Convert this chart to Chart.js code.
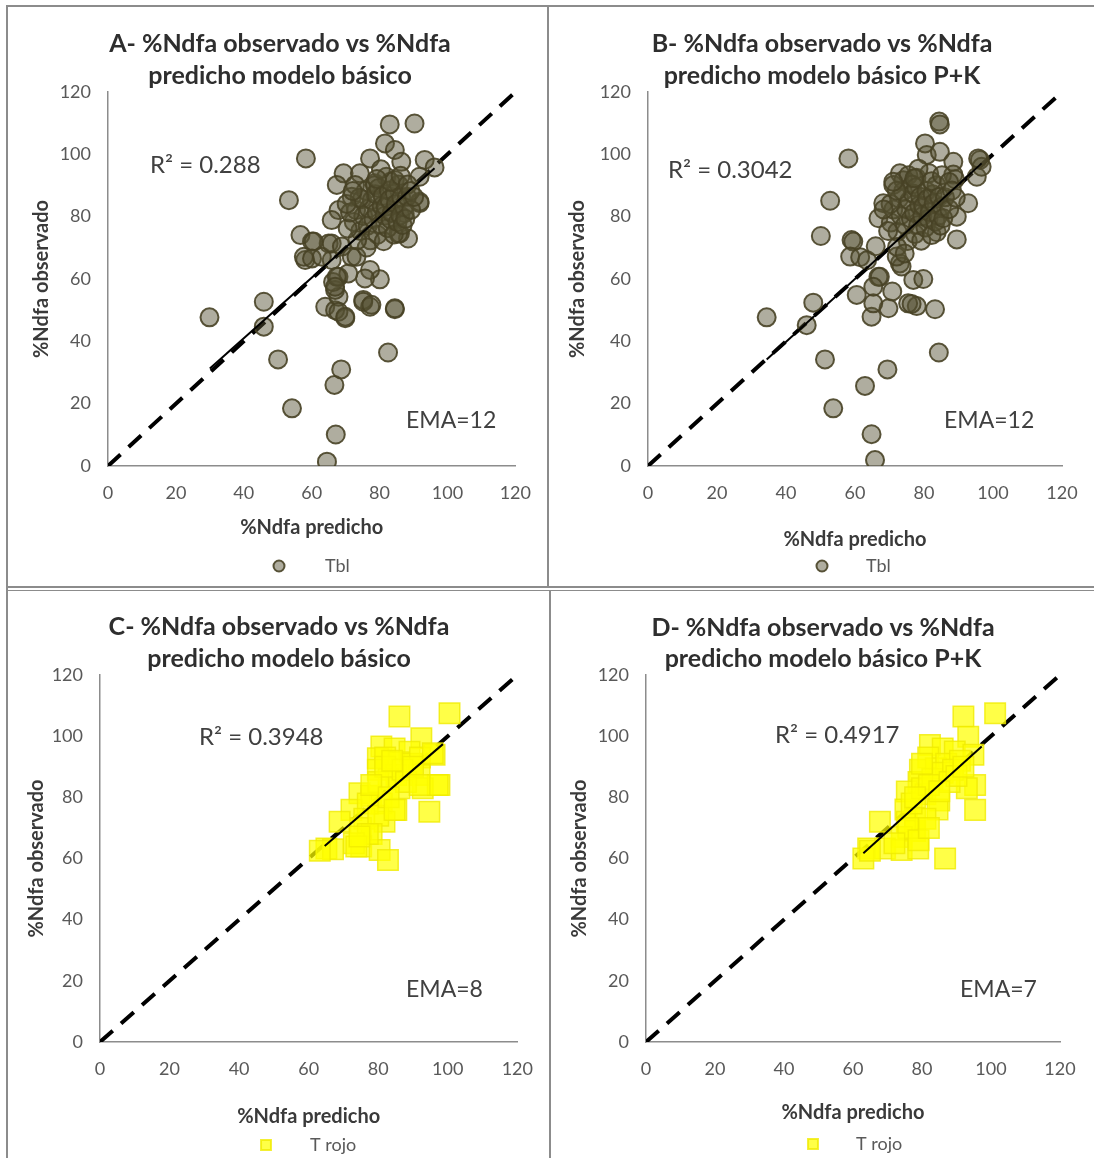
<!DOCTYPE html>
<html>
<head>
<meta charset="utf-8">
<script src="https://cdn.jsdelivr.net/npm/chart.js@4.4.1/dist/chart.umd.min.js"></script>
<style>
  body { margin: 0; background: #fff; width: 1094px; height: 1158px; position: relative; overflow: hidden; }
  canvas { position: absolute; }
  .ln { position: absolute; background: #8c8c8c; }
</style>
</head>
<body>
<div class="ln" style="left:6px;top:5px;width:1088px;height:2px"></div>
<div class="ln" style="left:6px;top:5px;width:2px;height:1153px"></div>
<div class="ln" style="left:547px;top:5px;width:2px;height:583px"></div>
<div class="ln" style="left:6px;top:586px;width:1088px;height:2px"></div>
<div class="ln" style="left:6px;top:590px;width:1088px;height:1px"></div>
<div class="ln" style="left:549px;top:590px;width:2px;height:568px"></div>

<canvas id="cA" width="539" height="579" style="left:8px;top:7px"></canvas>
<canvas id="cB" width="545" height="579" style="left:549px;top:7px"></canvas>
<canvas id="cC" width="541" height="567" style="left:8px;top:591px"></canvas>
<canvas id="cD" width="543" height="567" style="left:551px;top:591px"></canvas>

<script>
// axis ticks (both axes)
const ticks = [0, 20, 40, 60, 80, 100, 120];

// A - Tbl, modelo básico
const predA = [
  83.0, 90.3, 58.3, 53.3, 56.7, 29.9, 45.9, 45.9, 50.1, 54.2,
  67.1, 64.5, 66.7, 68.7, 82.5, 84.5, 93.3, 96.2, 91.8, 91.8,
  88.4, 86.0, 80.1, 77.2, 75.2, 69.9, 64.0, 66.9, 67.9, 66.9,
  66.3, 67.9, 65.0, 60.1, 58.1, 60.6, 57.7, 65.9, 77.2, 75.7,
  70.8, 67.4, 66.9, 67.9, 69.9, 75.2, 77.6, 84.5, 81.6, 84.5,
  77.2, 86.4, 69.4, 74.2, 67.4, 82.0, 71.8, 91.8, 67.9, 65.9,
  87.4, 85.5, 60.1, 63.0, 65.9, 68.9, 71.8, 73.2, 84.5, 78.6,
  72.8,
  72.4, 73.1, 74.3, 75.2, 74.8, 76.5, 75.9, 77.3, 76.8, 78.2,
  77.7, 78.6, 79.4, 79.1, 78.8, 80.3, 80.6, 79.7, 81.2, 81.5,
  80.9, 82.4, 81.8, 82.7, 83.3, 82.9, 84.2, 83.6, 84.5, 85.3,
  84.8, 85.6, 86.1, 86.4, 87.2, 86.8, 88.1, 87.6, 89.3, 76.2,
  73.4, 70.6, 71.3, 74.1, 83.2, 86.2, 80.4, 79.2, 88.3, 89.1,
  90.2, 70.3, 72.1
];
const obsA = [
  109.6, 109.9, 98.7, 85.3, 74.1, 47.7, 52.7, 44.7, 34.2, 18.5,
  10.1, 1.4, 26.0, 31.0, 36.4, 50.3, 98.2, 95.8, 84.3, 92.8,
  73.0, 74.6, 59.9, 51.1, 53.3, 47.4, 51.1, 50.0, 54.3, 56.5,
  59.0, 60.7, 71.4, 72.0, 66.1, 72.0, 67.1, 66.1, 62.9, 60.2,
  61.8, 60.7, 57.5, 49.5, 47.9, 52.7, 51.7, 50.6, 103.5, 101.4,
  98.7, 97.6, 93.9, 93.9, 90.2, 92.8, 86.4, 84.8, 82.1, 78.9,
  81.1, 74.6, 66.6, 67.1, 71.4, 70.4, 67.1, 67.1, 91.8, 90.7,
  90.2,
  78.3, 82.1, 75.4, 80.2, 85.6, 77.1, 88.3, 72.4, 82.6, 79.2,
  85.3, 90.1, 74.2, 81.4, 87.2, 77.5, 83.4, 89.2, 72.1, 80.3,
  86.6, 76.3, 83.2, 88.4, 79.1, 85.5, 74.3, 81.2, 87.4, 78.2,
  84.1, 90.3, 80.4, 86.2, 83.1, 77.3, 86.4, 79.3, 82.2, 70.1,
  72.4, 76.2, 81.3, 86.1, 91.2, 93.1, 95.2, 92.1, 90.3, 88.2,
  86.3, 84.1, 88.2
];

// B - Tbl, modelo básico P+K
const predB = [
  84.4, 84.6, 58.1, 52.8, 50.1, 34.4, 47.9, 46.0, 51.3, 53.7,
  64.8, 65.8, 62.9, 69.4, 84.3, 83.2, 64.8, 69.7, 65.3, 60.5,
  77.9, 75.4, 76.4, 70.8, 76.9, 79.8, 66.8, 67.2, 65.3, 73.0,
  73.5, 72.1, 59.0, 59.5, 58.6, 61.5, 63.5, 66.0, 89.5, 83.7,
  92.8, 89.5, 96.2, 95.3, 96.7, 95.7, 80.3, 80.8, 84.6, 88.5,
  88.5, 89.0, 73.0, 71.1, 68.2, 66.8, 74.0, 75.5, 77.8, 81.5,
  70.4, 71.1, 72.3, 73.2, 72.8, 74.5, 73.9, 75.3, 74.8, 76.2,
  75.7, 76.6, 77.4, 77.1, 76.8, 78.3, 78.6, 77.7, 79.2, 79.5,
  78.9, 80.4, 79.8, 80.7, 81.3, 80.9, 82.2, 81.6, 82.5, 83.3,
  82.8, 83.6, 84.1, 84.4, 85.2, 84.8, 86.1, 85.6, 87.3, 72.2,
  74.4, 69.6, 70.3, 72.1, 82.2, 85.2, 78.4, 77.2, 87.3, 88.1,
  89.2, 68.3, 71.1
];
const obsB = [
  110.5, 109.6, 98.7, 85.1, 73.8, 47.7, 52.4, 45.2, 34.2, 18.5,
  10.2, 1.9, 25.7, 31.0, 36.4, 50.3, 47.9, 50.6, 52.2, 54.9,
  51.3, 52.2, 52.0, 56.0, 59.7, 60.0, 60.7, 60.7, 57.5, 65.0,
  64.0, 67.2, 72.5, 72.0, 67.2, 67.0, 66.0, 70.5, 72.7, 75.0,
  84.3, 80.0, 98.2, 92.8, 96.0, 98.7, 103.5, 99.8, 100.8, 97.6,
  93.5, 92.0, 93.9, 90.2, 84.3, 79.5, 91.7, 93.3, 92.5, 93.9,
  78.1, 82.3, 75.2, 80.4, 85.8, 77.3, 88.1, 72.2, 82.4, 79.4,
  85.1, 90.3, 74.4, 81.2, 87.4, 77.3, 83.6, 89.4, 72.3, 80.1,
  86.4, 76.5, 83.4, 88.2, 79.3, 85.7, 74.1, 81.4, 87.2, 78.4,
  84.3, 90.1, 80.2, 86.4, 83.3, 77.1, 86.2, 79.5, 82.4, 70.3,
  68.2, 75.4, 84.1, 88.3, 91.4, 93.3, 95.4, 92.3, 91.1, 88.4,
  86.1, 82.3, 91.2
];

// C - T rojo, modelo básico
const predC = [
  86.1, 100.5, 92.4, 80.9, 84.7, 89.0, 96.2, 79.9, 82.0, 86.0,
  89.5, 92.0, 79.9, 85.2, 91.9, 97.6, 92.8, 86.1, 74.6, 78.0,
  81.0, 94.7, 85.2, 81.8, 72.3, 68.9, 77.0, 76.0, 75.0, 80.0,
  78.1, 75.1, 80.4, 82.8, 65.1, 67.0, 83.0, 80.0, 82.0, 87.0,
  84.0, 78.0, 88.0, 90.0, 83.0, 77.0, 73.0, 95.7, 97.1, 91.9,
  84.7, 63.2, 73.7, 74.6
];
const obsC = [
  106.4, 107.5, 99.3, 96.6, 96.0, 94.9, 93.9, 92.8, 93.0, 91.5,
  91.0, 93.0, 89.0, 87.3, 87.3, 84.0, 83.0, 83.0, 81.3, 80.5,
  78.0, 75.3, 75.9, 72.0, 75.9, 72.0, 78.0, 73.0, 70.0, 74.0,
  68.0, 63.9, 62.8, 59.5, 63.3, 63.0, 86.0, 85.0, 90.0, 89.0,
  92.0, 84.0, 85.0, 90.0, 80.0, 68.0, 65.0, 94.4, 84.0, 84.0,
  75.9, 62.5, 63.9, 67.2
];

// D - T rojo, modelo básico P+K
const predD = [
  92.0, 101.2, 93.4, 82.3, 86.0, 89.5, 94.9, 81.8, 79.4, 84.0,
  87.0, 91.0, 79.0, 95.4, 93.0, 75.6, 81.0, 85.0, 95.4, 75.2,
  84.5, 67.8, 75.6, 78.0, 78.0, 81.0, 74.1, 64.4, 63.0, 69.3,
  74.1, 78.9, 86.7, 77.0, 80.0, 83.0, 86.0, 89.0, 82.0, 88.0,
  90.0, 78.0, 76.0, 72.0, 79.0, 82.0, 85.0, 80.0, 92.0, 64.9
];
const obsD = [
  106.4, 107.5, 99.8, 97.1, 96.0, 95.0, 93.9, 93.0, 89.0, 89.5,
  91.0, 92.0, 85.0, 84.0, 83.0, 81.9, 81.0, 79.0, 75.9, 76.0,
  76.0, 72.0, 72.0, 73.0, 69.0, 73.0, 67.0, 63.3, 60.0, 63.3,
  62.8, 63.3, 60.0, 78.0, 83.0, 86.0, 88.0, 89.0, 84.0, 85.0,
  87.0, 80.0, 70.0, 65.0, 66.0, 70.0, 82.0, 91.0, 90.0, 62.5
];

// linear trendline end points (x, y)
const trendAx = [30.0, 96.2], trendAy = [31.3, 95.5];
const trendBx = [34.4, 96.7], trendBy = [34.2, 97.1];
const trendCx = [64.6, 98.6], trendCy = [64.1, 97.4];
const trendDx = [63.0, 97.3], trendDy = [61.7, 96.6];

const titles1 = ['A- %Ndfa observado vs %Ndfa', 'B- %Ndfa observado vs %Ndfa',
                 'C- %Ndfa observado vs %Ndfa', 'D- %Ndfa observado vs %Ndfa'];
const titles2 = ['predicho modelo básico', 'predicho modelo básico P+K',
                 'predicho modelo básico', 'predicho modelo básico P+K'];
const r2Labels = ['R² = 0.288', 'R² = 0.3042', 'R² = 0.3948', 'R² = 0.4917'];
const emaLabels = ['EMA=12', 'EMA=12', 'EMA=8', 'EMA=7'];
const seriesNames = ['Tbl', 'Tbl', 'T rojo', 'T rojo'];

const FONT = 'Lato, "Open Sans", sans-serif';

const olive = { pointStyle: 'circle', pointRadius: 9, backgroundColor: 'rgba(85,80,52,0.47)',
                borderColor: 'rgba(72,67,38,0.9)', borderWidth: 2 };
const yellow = { pointStyle: 'rect', pointRadius: 14.5, backgroundColor: 'rgba(255,255,0,0.72)',
                 borderColor: 'rgba(240,235,0,0.8)', borderWidth: 1.5 };

// page-coordinate layout of each panel
const panels = [
  { id: 'cA', box: [8, 7, 539, 579], plot: [108, 92, 518, 466], title: [280, 44, 76], r2: [150, 165], ema: [406, 421],
    legend: [279, 566, 325], yPad: 22, xPad: 46, px: predA, py: obsA, tx: trendAx, ty: trendAy, st: olive },
  { id: 'cB', box: [549, 7, 545, 579], plot: [648, 92, 1062, 466], title: [822, 44, 76], r2: [668, 170], ema: [944, 421],
    legend: [822, 566, 866], yPad: 17, xPad: 34, px: predB, py: obsB, tx: trendBx, ty: trendBy, st: olive },
  { id: 'cC', box: [8, 591, 541, 567], plot: [100, 675, 518, 1042], title: [279, 627, 659], r2: [199, 737], ema: [406, 990],
    legend: [266, 1145, 310], yPad: 17, xPad: 29, px: predC, py: obsC, tx: trendCx, ty: trendCy, st: yellow },
  { id: 'cD', box: [551, 591, 543, 567], plot: [646, 675, 1060, 1042], title: [823, 628, 659], r2: [775, 735], ema: [960, 990],
    legend: [813, 1144, 856], yPad: 17, xPad: 33, px: predD, py: obsD, tx: trendDx, ty: trendDy, st: yellow }
];

// titles, R², EMA and legend drawn on top of the chart
const panelText = {
  id: 'panelText',
  afterDraw(chart, args, o) {
    const ctx = chart.ctx;
    const ox = o.box[0], oy = o.box[1];
    ctx.save();
    ctx.textBaseline = 'middle';
    ctx.fillStyle = '#2e2e2e';
    ctx.textAlign = 'center';
    ctx.font = 'bold 25px ' + FONT;
    ctx.fillText(o.t1, o.title[0] - ox, o.title[1] - oy);
    ctx.fillText(o.t2, o.title[0] - ox, o.title[2] - oy);
    ctx.textAlign = 'left';
    ctx.font = '24px ' + FONT;
    ctx.fillStyle = '#404040';
    ctx.fillText(o.r2Text, o.r2[0] - ox, o.r2[1] - oy);
    ctx.font = '23px ' + FONT;
    ctx.fillText(o.emaText, o.ema[0] - ox, o.ema[1] - oy);
    // legend
    ctx.fillStyle = o.st.backgroundColor;
    ctx.strokeStyle = o.st.borderColor;
    ctx.lineWidth = 2;
    Chart.helpers.drawPoint(ctx, { pointStyle: o.st.pointStyle, radius: o.st.pointStyle === 'rect' ? 7 : 5.5, rotation: 0, borderWidth: 2 },
      o.legend[0] - ox, o.legend[1] - oy);
    ctx.fillStyle = '#595959';
    ctx.font = '18px ' + FONT;
    ctx.fillText(o.name, o.legend[2] - ox, o.legend[1] - oy);
    ctx.restore();
  }
};

function axis(text, titlePad, size, horizontal) {
  return {
    type: 'linear', min: ticks[0], max: ticks[ticks.length - 1],
    afterBuildTicks(s) { s.ticks = ticks.map(v => ({ value: v })); },
    ticks: { color: '#595959', font: { family: FONT, size: 18 }, padding: horizontal ? 16 : 17 },
    grid: { display: false, drawTicks: false },
    border: { display: true, color: '#8c8c8c', width: 1.5 },
    title: { display: true, text: text, color: '#3a3a3a', font: { family: FONT, size: 20, weight: 'bold' },
             padding: horizontal ? { top: 0, bottom: titlePad } : { top: titlePad, bottom: 0 } },
    afterFit(s) { if (horizontal) s.height = size; else s.width = size; }
  };
}

panels.forEach((p, i) => {
  const [bx, by, bw, bh] = p.box;
  const [pl, pt, pr, pb] = p.plot;
  const points = p.px.map((x, k) => ({ x: x, y: p.py[k] }));
  new Chart(document.getElementById(p.id), {
    type: 'scatter',
    data: {
      // first dataset is painted last: trendline over points, 1:1 line under them
      datasets: [
        { label: 'trend', data: p.tx.map((x, k) => ({ x: x, y: p.ty[k] })), showLine: true,
          borderColor: '#000', borderWidth: 2, pointRadius: 0 },
        Object.assign({ label: seriesNames[i], data: points }, p.st),
        { label: '1:1', data: [{ x: ticks[0], y: ticks[0] }, { x: ticks[6], y: ticks[6] }], showLine: true,
          borderColor: '#000', borderWidth: 4, borderDash: [17, 11], pointRadius: 0 }
      ]
    },
    options: {
      responsive: false,
      animation: false,
      events: [],
      layout: { padding: { left: 0, bottom: 0, top: pt - by, right: bx + bw - pr } },
      scales: {
        x: axis('%Ndfa predicho', p.xPad, by + bh - pb, true),
        y: axis('%Ndfa observado', p.yPad, pl - bx, false)
      },
      plugins: {
        legend: { display: false },
        tooltip: { enabled: false },
        panelText: { box: p.box, title: p.title, t1: titles1[i], t2: titles2[i], r2: p.r2, r2Text: r2Labels[i],
                     ema: p.ema, emaText: emaLabels[i], legend: p.legend, name: seriesNames[i], st: p.st }
      }
    },
    plugins: [panelText]
  });
});
</script>
</body>
</html>
